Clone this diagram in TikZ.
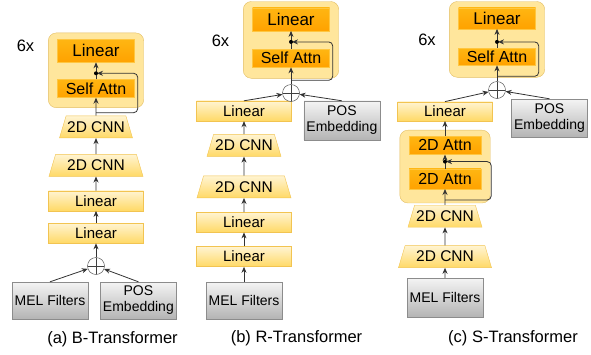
\documentclass[tikz,border=0pt]{standalone}
\usepackage{fontspec}
\setmainfont{Liberation Sans}
\usetikzlibrary{arrows.meta, positioning, shapes.geometric, fit, backgrounds}

\definecolor{lyrTop}{HTML}{FFF4D2}
\definecolor{lyrBot}{HTML}{FFD966}
\definecolor{lyrLine}{HTML}{F2C451}
\definecolor{atTop}{HTML}{FFB612}
\definecolor{atBot}{HTML}{FFA200}
\definecolor{atLine}{HTML}{FFC640}
\definecolor{blkFill}{HTML}{FFE69C}
\definecolor{blkLine}{HTML}{E2BD62}
\definecolor{inTop}{HTML}{F4F4F4}
\definecolor{inBot}{HTML}{B4B4B4}
\definecolor{inLine}{HTML}{8C8C8C}

\begin{document}
\begin{tikzpicture}[
    x=1pt, y=-1pt,
    layer/.style={
        draw=lyrLine,
        top color=lyrTop,
        bottom color=lyrBot,
        minimum width=95pt,
        minimum height=20pt,
        inner sep=0pt,
        font=\fontsize{15}{17}\selectfont
    },
    cnn/.style={
        trapezium,
        trapezium left angle=63,
        trapezium right angle=63,
        trapezium stretches body,
        draw=lyrLine,
        top color=lyrTop,
        bottom color=lyrBot,
        minimum height=22pt,
        inner sep=1pt,
        font=\fontsize{15.5}{17}\selectfont
    },
    attn/.style={
        draw=atLine,
        top color=atTop,
        bottom color=atBot,
        minimum width=77pt,
        minimum height=18pt,
        inner sep=0pt,
        font=\fontsize{16}{18}\selectfont
    },
    toplayer/.style={
        attn,
        minimum height=23pt,
        font=\fontsize{17}{19}\selectfont
    },
    block/.style={
        draw=blkLine,
        fill=blkFill,
        rounded corners=8pt,
        inner xsep=9pt,
        inner ysep=6pt
    },
    input/.style={
        draw=inLine,
        top color=inTop,
        bottom color=inBot,
        minimum width=76pt,
        minimum height=37pt,
        align=center,
        inner sep=1pt,
        font=\fontsize{14}{16}\selectfont
    },
    plus/.style={
        circle,
        draw=black!75,
        fill=white,
        minimum size=17pt,
        inner sep=0pt,
        path picture={
            \draw[black!75] (path picture bounding box.north) -- (path picture bounding box.south)
                (path picture bounding box.west) -- (path picture bounding box.east);
        }
    },
    arrow/.style={
        -{Stealth[length=6pt, width=5pt]},
        draw=black!80,
        line width=0.8pt
    },
    skip/.style={
        arrow,
        rounded corners=4pt,
        shorten >=1pt
    },
    dot/.style={circle, fill=black, inner sep=0pt, minimum size=4pt},
    label/.style={font=\fontsize{16.5}{18}\selectfont}
]
\useasboundingbox (0,0) rectangle (591,354);

% (a) B-Transformer
\node[input] (mela) at (50,300.5) {MEL Filters};
\node[input, right=12pt of mela] (posa) {POS\\Embedding};
\node[plus] (plusa) at (96,266) {};
\node[layer, above=14pt of plusa] (lin2a) {Linear};
\node[layer, above=12pt of lin2a] (lin1a) {Linear};
\node[cnn, minimum width=94pt, above=14pt of lin1a] (cnn2a) {2D CNN};
\node[cnn, minimum width=73pt, above=16pt of cnn2a] (cnn1a) {2D CNN};
\node[attn, above=18pt of cnn1a] (saa) {Self Attn};
\node[toplayer, above=17pt of saa] (lta) {Linear};
\begin{scope}[on background layer]
\node[block, fit={(lta) (saa) ([yshift=-4pt]saa.south)}] (blka) {};
\end{scope}
\node[label] (repa) at (25.5,46) {6x};
\node[label] (capa) at (112.5,339) {(a) B-Transformer};

\coordinate (ja) at ([yshift=6pt]saa.north);
\coordinate (ra) at ([yshift=3pt]cnn1a.north);
\draw[arrow] (mela.north) -- (plusa);
\draw[arrow] (posa.north) -- (plusa);
\draw[arrow] (plusa) -- (lin2a);
\draw[arrow] (lin2a) -- (lin1a);
\draw[arrow] (lin1a) -- (cnn2a);
\draw[arrow] (cnn2a) -- (cnn1a);
\draw[arrow] (cnn1a) -- (saa);
\draw[arrow] (saa) -- (lta);
\draw[skip] (ra) -| ([xshift=3pt]saa.east) |- (ja);
\node[dot] at (ja) {};

% (b) R-Transformer
\node[input] (melb) at (244,300.5) {MEL Filters};
\node[layer, above=15pt of melb] (lin2b) {Linear};
\node[layer, above=14pt of lin2b] (lin1b) {Linear};
\node[cnn, minimum width=94pt, above=14pt of lin1b] (cnn2b) {2D CNN};
\node[cnn, minimum width=74pt, above=19pt of cnn2b] (cnn1b) {2D CNN};
\node[layer, above=13pt of cnn1b] (lin3b) {Linear};
\node[input, minimum height=39pt, anchor=north west] (posb) at ([xshift=12pt]lin3b.north east) {POS\\Embedding};
\node[plus] (plusb) at (291,93) {};
\node[attn, above=17pt of plusb] (sab) {Self Attn};
\node[toplayer, above=18pt of sab] (ltb) {Linear};
\begin{scope}[on background layer]
\node[block, fit={(ltb) (sab) ([yshift=-5pt]sab.south)}] (blkb) {};
\end{scope}
\node[label] (repb) at (220.5,41) {6x};
\node[label] (capb) at (296.5,338) {(b) R-Transformer};

\coordinate (jb) at ([yshift=7pt]sab.north);
\coordinate (rb) at ([yshift=4pt]plusb.north);
\draw[arrow] (melb) -- (lin2b);
\draw[arrow] (lin2b) -- (lin1b);
\draw[arrow] (lin1b) -- (cnn2b);
\draw[arrow] (cnn2b) -- (cnn1b);
\draw[arrow] (cnn1b) -- (lin3b);
\draw[arrow] (lin3b.north) -- (plusb);
\draw[arrow] (posb.north) -- (plusb);
\draw[arrow] (plusb) -- (sab);
\draw[arrow] (sab) -- (ltb);
\draw[skip] (rb) -| ([xshift=3pt]sab.east) |- (jb);
\node[dot] at (jb) {};

% (c) S-Transformer
\node[input, minimum height=39pt] (melc) at (445,297.5) {MEL Filters};
\node[cnn, minimum width=93pt, above=10pt of melc] (cnn2c) {2D CNN};
\node[cnn, minimum width=74pt, above=18pt of cnn2c] (cnn1c) {2D CNN};
\node[attn, minimum width=72pt, minimum height=20pt, above=16pt of cnn1c] (at2c) {2D Attn};
\node[attn, minimum width=72pt, above=14pt of at2c] (at1c) {2D Attn};
\begin{scope}[on background layer]
\node[block, fit={(at1c) (at2c) ([yshift=-8pt]at2c.south)}] (blkc) {};
\end{scope}
\node[layer, minimum height=19pt, above=9pt of blkc] (lin3c) {Linear};
\node[input, minimum height=38pt] (posc) at (549.5,118) {POS\\Embedding};
\node[plus] (plusc) at (497,90) {};
\node[attn, minimum height=17pt, above=16pt of plusc] (sac) {Self Attn};
\node[toplayer, minimum height=21pt, above=19pt of sac] (ltc) {Linear};
\begin{scope}[on background layer]
\node[block, fit={(ltc) (sac) ([yshift=-6pt]sac.south)}] (blkd) {};
\end{scope}
\node[label] (repc) at (427,40) {6x};
\node[label] (capc) at (513,338) {(c) S-Transformer};

\coordinate (jc) at ([yshift=7pt]at2c.north);
\coordinate (rc) at ([yshift=5pt]cnn1c.north);
\coordinate (jd) at ([yshift=6pt]sac.north);
\coordinate (rd) at ([yshift=5pt]plusc.north);
\draw[arrow] (melc) -- (cnn2c);
\draw[arrow] (cnn2c) -- (cnn1c);
\draw[arrow] (cnn1c) -- (at2c);
\draw[arrow] (at2c) -- (at1c);
\draw[arrow] (at1c) -- (lin3c);
\draw[skip] (rc) -| ([xshift=10pt]at2c.east) |- (jc);
\node[dot] at (jc) {};
\draw[arrow] (lin3c.north) -- (plusc);
\draw[arrow] (posc.north) -- (plusc);
\draw[arrow] (plusc) -- (sac);
\draw[arrow] (sac) -- (ltc);
\draw[skip] (rd) -| ([xshift=3pt]sac.east) |- (jd);
\node[dot] at (jd) {};

\end{tikzpicture}
\end{document}
